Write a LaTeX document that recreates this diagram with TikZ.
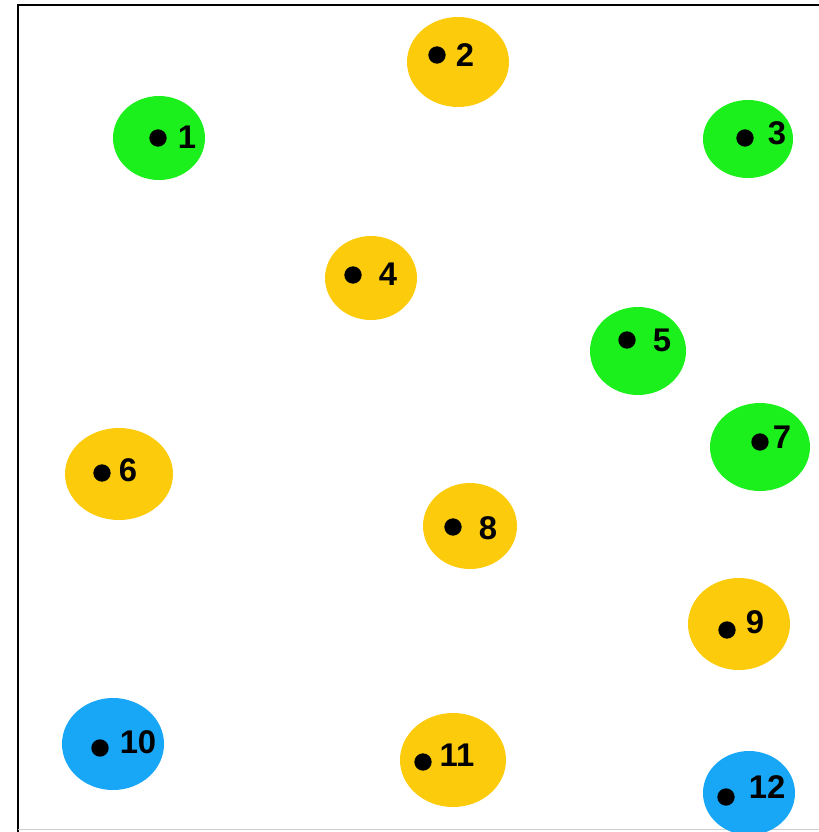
\documentclass[tikz,border=0pt]{standalone}
\usepackage{fontspec}
\setmainfont{Liberation Sans}
\definecolor{ptgreen}{RGB}{28,240,28}
\definecolor{ptyellow}{RGB}{252,204,12}
\definecolor{ptblue}{RGB}{24,166,246}
\begin{document}
\begin{tikzpicture}[x=0.03cm,y=-0.03cm,
    numlabel/.style={inner sep=0pt,font=\bfseries\fontsize{28}{30}\selectfont}]
    \def\dotR{0.26cm}
    \useasboundingbox (0,0) rectangle (819,832);
    % 绘制边框
    \draw[line width=0.08cm] (18,832) -- (18,5) -- (819,5);
    \draw[gray!40, line width=0.03cm] (18,829) -- (819,829);
    % 绘制各点的彩色区域、圆点与编号
    \foreach \cx/\cy/\rx/\ry/\col/\dx/\dy/\lx/\ly/\t in {
        159/138/46/42/ptgreen/158/138/187/137/1,
        458/62/51/45/ptyellow/437/55/465/55/2,
        748/139/45/39/ptgreen/745/138/777/133/3,
        371/278/46/42/ptyellow/353/275/388/274/4,
        638/351/48/44/ptgreen/627/340/662/340/5,
        119/474/54/46/ptyellow/102/473/128/470/6,
        760/447/50/44/ptgreen/760/442/782/437/7,
        470/526/47/43/ptyellow/453/527/488/528/8,
        739/624/51/46/ptyellow/727/630/755/622/9,
        113/744/51/46/ptblue/100/748/138/742/10,
        453/760/53/47/ptyellow/423/762/457/755/11,
        749/793/46/42/ptblue/726/797/767/787/12}
    {
        \fill[\col] (\cx,\cy) ellipse ({\rx*0.03cm} and {\ry*0.03cm});
        \coordinate (d\t) at (\dx,\dy);
        \fill (d\t) circle (\dotR);
        \node[numlabel] (p\t) at (\lx,\ly) {\t};
    }
\end{tikzpicture}
\end{document}
